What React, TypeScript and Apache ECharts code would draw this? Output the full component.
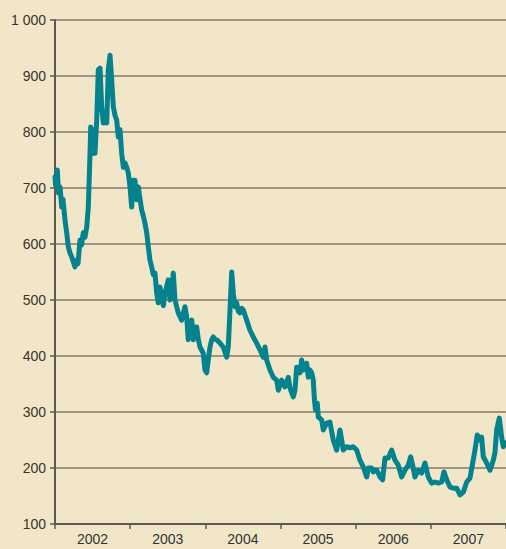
import React, { useEffect, useRef } from "react";
import * as echarts from "echarts";

const years = ["2002", "2003", "2004", "2005", "2006", "2007"];
const yTicks = [100, 200, 300, 400, 500, 600, 700, 800, 900, 1000];

// decimal years
const dates = [
  2002.0, 2002.007, 2002.031, 2002.047, 2002.067, 2002.089, 2002.106, 2002.133, 2002.156, 2002.177,
  2002.2, 2002.222, 2002.239, 2002.266, 2002.289, 2002.306, 2002.333, 2002.353, 2002.376, 2002.399,
  2002.422, 2002.443, 2002.456, 2002.466, 2002.475, 2002.488, 2002.51, 2002.532, 2002.555, 2002.576,
  2002.599, 2002.621, 2002.643, 2002.665, 2002.688, 2002.709, 2002.732, 2002.754, 2002.776, 2002.798,
  2002.821, 2002.842, 2002.865, 2002.887, 2002.909, 2002.931, 2002.954, 2002.975, 2002.998, 2003.02,
  2003.042, 2003.064, 2003.087, 2003.108, 2003.131, 2003.153, 2003.175, 2003.197, 2003.22, 2003.241,
  2003.264, 2003.286, 2003.308, 2003.33, 2003.353, 2003.374, 2003.397, 2003.419, 2003.441, 2003.463,
  2003.507, 2003.53, 2003.552, 2003.574, 2003.596, 2003.64, 2003.685, 2003.729, 2003.752, 2003.773,
  2003.796, 2003.819, 2003.84, 2003.862, 2003.885, 2003.906, 2003.929, 2003.973, 2003.995, 2004.018,
  2004.039, 2004.062, 2004.085, 2004.106, 2004.128, 2004.151, 2004.195, 2004.239, 2004.284, 2004.305,
  2004.328, 2004.351, 2004.372, 2004.395, 2004.417, 2004.438, 2004.461, 2004.484, 2004.505, 2004.55,
  2004.594, 2004.638, 2004.683, 2004.727, 2004.771, 2004.794, 2004.816, 2004.86, 2004.904, 2004.949,
  2004.971, 2005.016, 2005.06, 2005.104, 2005.126, 2005.17, 2005.193, 2005.215, 2005.259, 2005.282,
  2005.303, 2005.348, 2005.37, 2005.392, 2005.415, 2005.436, 2005.452, 2005.465, 2005.489, 2005.503,
  2005.548, 2005.569, 2005.614, 2005.658, 2005.702, 2005.747, 2005.791, 2005.814, 2005.835, 2005.88,
  2005.924, 2005.968, 2006.013, 2006.057, 2006.101, 2006.147, 2006.168, 2006.213, 2006.234, 2006.257,
  2006.28, 2006.301, 2006.323, 2006.359, 2006.39, 2006.434, 2006.479, 2006.523, 2006.567, 2006.612,
  2006.656, 2006.7, 2006.732, 2006.758, 2006.789, 2006.833, 2006.878, 2006.922, 2006.966, 2007.011,
  2007.055, 2007.099, 2007.144, 2007.175, 2007.211, 2007.255, 2007.299, 2007.344, 2007.388, 2007.432,
  2007.477, 2007.521, 2007.557, 2007.587, 2007.618, 2007.654, 2007.676, 2007.698, 2007.743, 2007.787,
  2007.831, 2007.853, 2007.876, 2007.911, 2007.942, 2007.964, 2007.99,
];

const values = [
  720, 705, 732, 691, 702, 666, 680, 643, 620, 595,
  584, 577, 570, 559, 571, 565, 607, 598, 620, 612,
  630, 666, 720, 762, 809, 762, 804, 762, 821, 911,
  914, 845, 816, 834, 816, 911, 937, 893, 845, 830,
  821, 791, 804, 762, 737, 745, 737, 727, 702, 666,
  714, 714, 679, 702, 680, 661, 650, 637, 620, 595,
  571, 559, 545, 548, 512, 495, 523, 505, 490, 512,
  536, 500, 520, 548, 500, 477, 464, 488, 470, 429,
  450, 464, 429, 452, 452, 430, 416, 405, 375, 370,
  393, 416, 429, 434, 430, 429, 423, 416, 398, 416,
  482, 550, 512, 488, 495, 480, 477, 485, 482, 464,
  446, 434, 423, 411, 398, 416, 393, 375, 362, 357,
  339, 357, 345, 362, 343, 327, 339, 380, 370, 393,
  375, 387, 362, 375, 370, 357, 321, 304, 316, 291,
  286, 268, 280, 282, 250, 232, 268, 250, 232, 238,
  236, 238, 232, 214, 202, 184, 200, 200, 193, 196,
  196, 191, 184, 179, 218, 218, 232, 214, 205, 184,
  196, 205, 220, 205, 184, 196, 191, 209, 184, 173,
  175, 173, 175, 193, 179, 166, 164, 164, 152, 157,
  175, 182, 209, 232, 259, 250, 255, 220, 209, 196,
  214, 227, 268, 289, 255, 238, 245,
];

export default function App() {
  const ref = useRef<HTMLDivElement>(null);
  useEffect(() => {
    document.body.style.margin = "0";
    const chart = echarts.init(ref.current!, null, { renderer: "svg" });
    const data = dates.map((d, i) => [d, values[i]]);
    const font = "Liberation Sans, Arial, sans-serif";
    chart.setOption({
      animation: false,
      backgroundColor: "#F2E6C9",
      grid: { left: 55, top: 20, right: 0, bottom: 25, containLabel: false },
      xAxis: [
        {
          type: "category",
          data: years,
          boundaryGap: true,
          position: "bottom",
          axisLine: { show: true, lineStyle: { color: "#5e5850", width: 2 } },
          axisTick: { show: true, alignWithLabel: false, length: 5, lineStyle: { color: "#5e5850", width: 1.5 } },
          axisLabel: { color: "#333", fontSize: 14, fontFamily: font, margin: 8 },
          splitLine: { show: false },
        },
        {
          type: "value",
          min: 2002,
          max: 2008,
          show: false,
          splitLine: { show: false },
        },
      ],
      yAxis: {
        type: "value",
        min: yTicks[0],
        max: yTicks[yTicks.length - 1],
        interval: 100,
        axisLine: { show: true, lineStyle: { color: "#5e5850", width: 2 } },
        axisTick: { show: true, length: 5, lineStyle: { color: "#5e5850", width: 1.5 } },
        axisLabel: {
          color: "#333",
          fontSize: 14,
          fontFamily: font,
          margin: 9,
          formatter: (v: number) => (v >= 1000 ? String(v).replace(/(\d)(?=(\d{3})+$)/, "$1 ") : String(v)),
        },
        splitLine: { show: true, lineStyle: { color: "#85796a", width: 1.5 } },
      },
      series: [
        {
          type: "line",
          xAxisIndex: 1,
          data,
          showSymbol: false,
          symbol: "none",
          lineStyle: { color: "#04838E", width: 5, join: "round", cap: "round" },
          z: 3,
        },
      ],
    });
    return () => chart.dispose();
  }, []);
  return <div ref={ref} style={{ position: "fixed", left: 0, top: 0, width: 506, height: 549 }} />;
}
